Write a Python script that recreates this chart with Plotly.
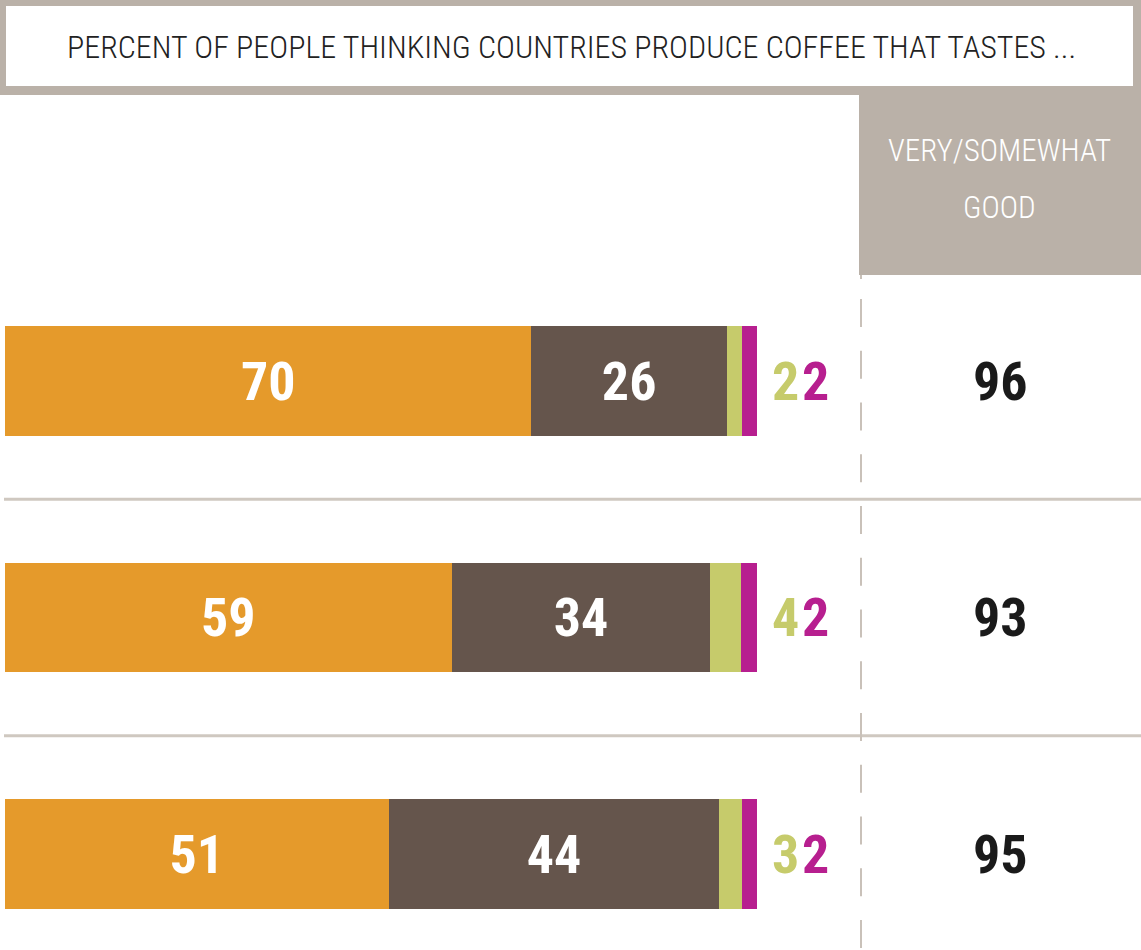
import plotly.graph_objects as go

# ---- data ----
rows = ["Row 1", "Row 2", "Row 3"]
very_good = [70, 59.4, 51]
somewhat_good = [26, 34.4, 44]
somewhat_bad = [2, 4.1, 3]
very_bad = [2, 2.1, 2]
totals = [96, 93, 95]
title_text = "PERCENT OF PEOPLE THINKING COUNTRIES PRODUCE COFFEE THAT TASTES ..."
header_lines = ["VERY/SOMEWHAT", "GOOD"]

# ---- style ----
W, H = 1141, 950
ORANGE = "#e59a2b"
BROWN = "#65554c"
GREEN = "#c6cb6b"
MAGENTA = "#b71f8f"
GREY = "#bab1a8"
LINE = "#cfc8c0"
TFONT = "Roboto Condensed, DejaVu Sans Condensed, sans-serif"
NFONT = "Roboto Condensed, Liberation Sans, sans-serif"
NUM_SIZE = 54

ypos = list(range(len(rows)))


def px_x(p):
    return p / W


def px_y(p):
    return 1 - p / H


scale = 7.52  # pixels per percentage point


def val_x(p):
    return (p - 5) / scale


fig = go.Figure()
seg_specs = [
    (very_good, ORANGE, True),
    (somewhat_good, BROWN, True),
    (somewhat_bad, GREEN, False),
    (very_bad, MAGENTA, False),
]
for vals, color, show in seg_specs:
    fig.add_trace(go.Bar(
        y=ypos, x=vals, orientation="h",
        marker=dict(color=color, line=dict(width=0)),
        width=0.465,
        texttemplate="%{x:.0f}" if show else None,
        textposition="inside" if show else "none",
        insidetextanchor="middle",
        textangle=0,
        textfont=dict(family=NFONT, size=NUM_SIZE, color="white", weight="bold"),
        hoverinfo="skip",
        showlegend=False,
    ))

shapes = []
# title box
shapes.append(dict(type="rect", xref="paper", yref="paper",
                   x0=0, x1=1, y0=px_y(95), y1=1,
                   fillcolor=GREY, line=dict(width=0), layer="below"))
shapes.append(dict(type="rect", xref="paper", yref="paper",
                   x0=px_x(6), x1=px_x(1133), y0=px_y(86), y1=px_y(6),
                   fillcolor="white", line=dict(width=0), layer="below"))
# header box
shapes.append(dict(type="rect", xref="paper", yref="paper",
                   x0=px_x(859), x1=1, y0=px_y(275), y1=px_y(95),
                   fillcolor=GREY, line=dict(width=0), layer="below"))
# separators between rows
for i in range(len(rows) - 1):
    shapes.append(dict(type="line", xref="paper", yref="y",
                       x0=px_x(4), x1=1, y0=i + 0.5, y1=i + 0.5,
                       line=dict(color=LINE, width=3), layer="below"))
# dashed vertical line
shapes.append(dict(type="line", xref="paper", yref="paper",
                   x0=px_x(861), x1=px_x(861), y0=px_y(299), y1=0,
                   line=dict(color="#c9c1b9", width=2, dash="28px,23.75px"),
                   layer="below"))
shapes.append(dict(type="line", xref="paper", yref="paper",
                   x0=px_x(861), x1=px_x(861), y0=px_y(275), y1=px_y(279),
                   line=dict(color="#c9c1b9", width=2), layer="below"))

annotations = [
    dict(text=title_text, xref="paper", yref="paper",
         x=px_x(571), y=px_y(47), showarrow=False,
         xanchor="center", yanchor="middle",
         font=dict(family=TFONT, size=32, color="#222222", weight=300)),
    dict(text=header_lines[0], xref="paper", yref="paper",
         x=px_x(999), y=px_y(151), showarrow=False,
         xanchor="center", yanchor="middle",
         font=dict(family=TFONT, size=31, color="white", weight=300)),
    dict(text=header_lines[1], xref="paper", yref="paper",
         x=px_x(999), y=px_y(207), showarrow=False,
         xanchor="center", yanchor="middle",
         font=dict(family=TFONT, size=31, color="white", weight=300)),
]
for i in range(len(rows)):
    annotations.append(dict(text=f"{somewhat_bad[i]:.0f}", xref="x", yref="y",
                            x=val_x(800), y=i, showarrow=False,
                            xanchor="right", yanchor="middle", borderpad=0,
                            font=dict(family=NFONT, size=NUM_SIZE, color=GREEN,
                                      weight="bold")))
    annotations.append(dict(text=f"{very_bad[i]:.0f}", xref="x", yref="y",
                            x=val_x(801), y=i, showarrow=False,
                            xanchor="left", yanchor="middle", borderpad=0,
                            font=dict(family=NFONT, size=NUM_SIZE, color=MAGENTA,
                                      weight="bold")))
    annotations.append(dict(text=str(totals[i]), xref="paper", yref="y",
                            x=px_x(1000), y=i, showarrow=False,
                            xanchor="center", yanchor="middle",
                            font=dict(family=NFONT, size=NUM_SIZE, color="#1a1a1a",
                                      weight="bold")))

fig.update_layout(
    width=W, height=H,
    margin=dict(l=0, r=0, t=0, b=0),
    barmode="stack",
    plot_bgcolor="white", paper_bgcolor="white",
    xaxis=dict(range=[-5 / scale, (W - 5) / scale], visible=False,
               fixedrange=True),
    yaxis=dict(range=[(H - 381) / 236.5, -381 / 236.5], visible=False,
               fixedrange=True),
    shapes=shapes,
    annotations=annotations,
)

fig.write_html("out.html", config={"displayModeBar": False},
               post_script="document.body.style.margin='0';document.body.style.overflow='hidden';")
